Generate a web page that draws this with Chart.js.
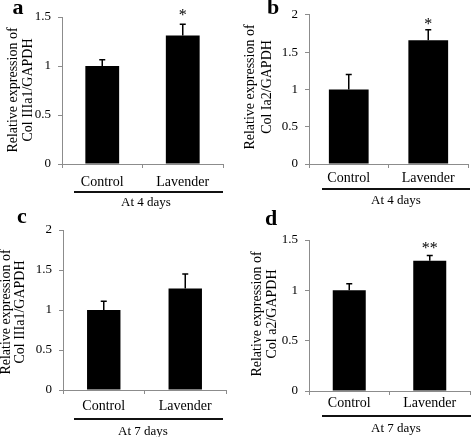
<!DOCTYPE html>
<html>
<head>
<meta charset="utf-8">
<script src="https://cdn.jsdelivr.net/npm/chart.js@4"></script>
<style>
  html, body { margin: 0; padding: 0; background: #fff; }
  #wrap { position: relative; width: 471px; height: 437px; overflow: hidden; }
  #wrap canvas { position: absolute; left: 0; top: 0; }
</style>
</head>
<body>
<div id="wrap">
  <canvas id="ca" width="471" height="437"></canvas>
  <canvas id="cb" width="471" height="437"></canvas>
  <canvas id="cc" width="471" height="437"></canvas>
  <canvas id="cd" width="471" height="437"></canvas>
</div>
<script>
// ---------------- data ----------------
const categories = ['Control', 'Lavender'];

const valuesA = [1.00, 1.31];
const errorsA = [0.065, 0.115];
const starsA  = ['', '*'];
const yTicksA = [0, 0.5, 1, 1.5];
const yTitleA = ['Relative expression of', 'Col IIIa1/GAPDH'];
const subA = 'At 4 days';

const valuesB = [1.00, 1.66];
const errorsB = [0.20, 0.14];
const starsB  = ['', '*'];
const yTicksB = [0, 0.5, 1, 1.5, 2];
const yTitleB = ['Relative expression of', 'Col Ia2/GAPDH'];
const subB = 'At 4 days';

const valuesC = [1.00, 1.27];
const errorsC = [0.11, 0.18];
const starsC  = ['', ''];
const yTicksC = [0, 0.5, 1, 1.5, 2];
const yTitleC = ['Relative expression of', 'Col IIIa1/GAPDH'];
const subC = 'At 7 days';

const valuesD = [1.00, 1.295];
const errorsD = [0.065, 0.05];
const starsD  = ['', '**'];
const yTicksD = [0, 0.5, 1, 1.5];
const yTitleD = ['Relative expression of', 'Col a2/GAPDH'];
const subD = 'At 7 days';

const letters = ['a', 'b', 'c', 'd'];

// ---------------- layout (positions / styles) ----------------
const W = 471, H = 437;
const FONT = '"Liberation Serif", "Times New Roman", serif';
const AXIS = '#8c8c8c';
const INK = '#000';

const layouts = [
  { id: 'ca', L: 62,  R: 223, T: 17,  B: 164, bar: 0.42, tickPad: 6,
    titleX: [13, 28], titleY: 90,  line: [74, 223, 192], subXY: [146, 203],
    letterXY: [18, 14], starGap: 12 },
  { id: 'cb', L: 309, R: 468, T: 11,  B: 164, bar: 0.50, tickPad: 2,
    titleX: [250, 267], titleY: 87, line: [322, 470, 189], subXY: [396, 201],
    letterXY: [273, 14], starGap: 8 },
  { id: 'cc', L: 63,  R: 226, T: 230, B: 390, bar: 0.41, tickPad: 4,
    titleX: [6, 20], titleY: 312, line: [74, 223, 419], subXY: [143, 432],
    letterXY: [22, 223], starGap: 10 },
  { id: 'cd', L: 309, R: 470, T: 240, B: 391, bar: 0.41, tickPad: 0,
    titleX: [257, 272], titleY: 314, line: [322, 471, 416], subXY: [396, 429],
    letterXY: [271, 225], starGap: 10 }
];

const panels = [
  { values: valuesA, errors: errorsA, stars: starsA, ticks: yTicksA, title: yTitleA, sub: subA },
  { values: valuesB, errors: errorsB, stars: starsB, ticks: yTicksB, title: yTitleB, sub: subB },
  { values: valuesC, errors: errorsC, stars: starsC, ticks: yTicksC, title: yTitleC, sub: subC },
  { values: valuesD, errors: errorsD, stars: starsD, ticks: yTicksD, title: yTitleD, sub: subD }
];

const Y_W = 34, X_H = 40;

function makeChart(idx) {
  const lay = layouts[idx];
  const p = panels[idx];
  const letter = letters[idx];

  const decor = {
    id: 'decor' + idx,
    afterDatasetsDraw(chart) {
      const ctx = chart.ctx;
      const ys = chart.scales.y;
      const meta = chart.getDatasetMeta(0);
      ctx.save();
      ctx.strokeStyle = INK;
      ctx.lineWidth = 1.5;
      meta.data.forEach((el, i) => {
        const v = p.values[i], e = p.errors[i];
        const y0 = ys.getPixelForValue(v);
        const y1 = ys.getPixelForValue(v + e);
        ctx.beginPath();
        ctx.moveTo(el.x, y0);
        ctx.lineTo(el.x, y1);
        ctx.moveTo(el.x - 3, y1);
        ctx.lineTo(el.x + 3, y1);
        ctx.stroke();
        if (p.stars[i]) {
          ctx.fillStyle = INK;
          ctx.font = '16px ' + FONT;
          ctx.textAlign = 'center';
          ctx.textBaseline = 'alphabetic';
          ctx.fillText(p.stars[i], el.x, y1 - lay.starGap + 7.4);
        }
      });
      ctx.restore();
    },
    afterDraw(chart) {
      const ctx = chart.ctx;
      ctx.save();
      ctx.fillStyle = INK;
      // y axis title (two rotated lines)
      ctx.font = '14px ' + FONT;
      ctx.textAlign = 'center';
      ctx.textBaseline = 'middle';
      p.title.forEach((t, k) => {
        ctx.save();
        ctx.translate(lay.titleX[k], lay.titleY);
        ctx.rotate(-Math.PI / 2);
        ctx.fillText(t, 0, 0);
        ctx.restore();
      });
      // underline
      ctx.strokeStyle = '#111';
      ctx.lineWidth = 1.8;
      ctx.beginPath();
      ctx.moveTo(lay.line[0], lay.line[2]);
      ctx.lineTo(lay.line[1], lay.line[2]);
      ctx.stroke();
      // sub label
      ctx.font = '13px ' + FONT;
      ctx.fillText(p.sub, lay.subXY[0], lay.subXY[1]);
      // panel letter
      ctx.font = 'bold 22px ' + FONT;
      ctx.textBaseline = 'alphabetic';
      ctx.fillText(letter, lay.letterXY[0], lay.letterXY[1]);
      ctx.restore();
    }
  };

  return new Chart(document.getElementById(lay.id), {
    type: 'bar',
    data: {
      labels: categories,
      datasets: [{
        data: p.values,
        backgroundColor: '#000',
        borderWidth: 0,
        barPercentage: lay.bar,
        categoryPercentage: 1
      }]
    },
    options: {
      responsive: false,
      animation: false,
      events: [],
      layout: {
        padding: {
          left: lay.L - Y_W,
          right: W - lay.R,
          top: lay.T,
          bottom: H - lay.B - X_H
        }
      },
      plugins: { legend: { display: false }, tooltip: { enabled: false } },
      scales: {
        x: {
          offset: true,
          grid: { offset: true, drawOnChartArea: false, drawTicks: true, tickLength: 4, color: AXIS },
          border: { color: AXIS, width: 1 },
          ticks: { color: INK, font: { family: FONT, size: 14 }, padding: lay.tickPad, maxRotation: 0 },
          afterFit(scale) { scale.height = X_H; }
        },
        y: {
          min: p.ticks[0],
          max: p.ticks[p.ticks.length - 1],
          afterBuildTicks(scale) { scale.ticks = p.ticks.map(v => ({ value: v })); },
          grid: { drawOnChartArea: false, drawTicks: true, tickLength: 4, color: AXIS },
          border: { color: AXIS, width: 1 },
          ticks: { color: INK, font: { family: FONT, size: 13 }, padding: 7,
                   callback: (v) => String(v) },
          afterFit(scale) { scale.width = Y_W; }
        }
      }
    },
    plugins: [decor]
  });
}

[0, 1, 2, 3].forEach(makeChart);
</script>
</body>
</html>
